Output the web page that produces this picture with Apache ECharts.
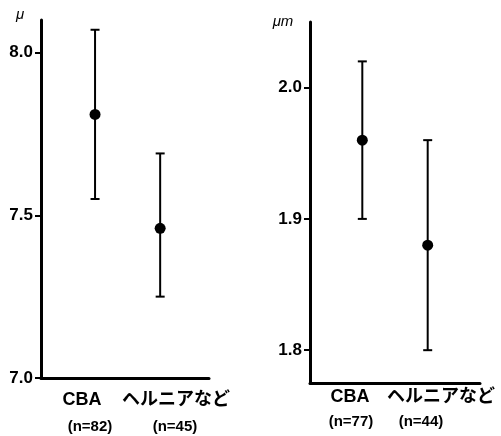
<!DOCTYPE html>
<html>
<head>
<meta charset="utf-8">
<script src="https://cdn.jsdelivr.net/npm/echarts@6/dist/echarts.min.js"></script>
<style>
html,body{margin:0;padding:0;background:#fff;}
#c{width:501px;height:436px;}
</style>
</head>
<body>
<div id="c"></div>
<script>
// Data
const categories = ['CBA', 'ヘルニアなど'];
const leftN = ['(n=82)', '(n=45)'];
const rightN = ['(n=77)', '(n=44)'];
const leftMean = [7.81, 7.46];
const leftUpper = [8.07, 7.69];
const leftLower = [7.55, 7.25];
const rightMean = [1.96, 1.88];
const rightUpper = [2.02, 1.96];
const rightLower = [1.90, 1.80];
const leftTicks = [7.0, 7.5, 8.0];
const rightTicks = [1.8, 1.9, 2.0];
const leftUnit = 'μ';
const rightUnit = 'μm';

const ink = '#000';
const chart = echarts.init(document.getElementById('c'), null, {renderer: 'canvas'});

function errData(upper, lower) {
  return upper.map((u, i) => [i + 1, lower[i], u]);
}
function meanData(mean) {
  return mean.map((m, i) => [i + 1, m]);
}
function renderErr(params, api) {
  const x = api.value(0);
  const lo = api.coord([x, api.value(1)]);
  const hi = api.coord([x, api.value(2)]);
  const hw = 4.5;
  const st = {stroke: ink, lineWidth: 2};
  return {
    type: 'group',
    children: [
      {type: 'line', shape: {x1: lo[0], y1: lo[1], x2: hi[0], y2: hi[1]}, style: st},
      {type: 'line', shape: {x1: hi[0] - hw, y1: hi[1], x2: hi[0] + hw, y2: hi[1]}, style: st},
      {type: 'line', shape: {x1: lo[0] - hw, y1: lo[1], x2: lo[0] + hw, y2: lo[1]}, style: st}
    ]
  };
}

const yAxisCommon = {
  type: 'value',
  splitLine: {show: false},
  axisLine: {show: true, lineStyle: {color: ink, width: 3}},
  axisTick: {show: true, length: 6, lineStyle: {color: ink, width: 2}},
  axisLabel: {color: ink, fontSize: 17, fontWeight: 'bold', margin: 8,
    fontFamily: 'Liberation Sans, Arial, sans-serif',
    formatter: v => v.toFixed(1)}
};
const xAxisCommon = {
  type: 'value',
  splitLine: {show: false},
  axisLine: {show: true, onZero: false, lineStyle: {color: ink, width: 3}},
  axisTick: {show: false},
  axisLabel: {show: false}
};

const catStyle = {fontSize: 18, fontWeight: 'bold', fill: ink,
  fontFamily: '"Liberation Sans", "Noto Sans CJK JP", sans-serif', align: 'center', verticalAlign: 'middle'};
const nStyle = {fontSize: 15, fontWeight: 'bold', fill: ink,
  fontFamily: '"Liberation Sans", Arial, sans-serif', align: 'center', verticalAlign: 'middle'};
const unitStyle = {fontSize: 15, fontStyle: 'italic', fill: ink,
  fontFamily: '"Liberation Sans", sans-serif', align: 'center', verticalAlign: 'middle'};

function txt(text, x, y, style) {
  return {type: 'text', x: x, y: y, style: Object.assign({text: text}, style)};
}

chart.setOption({
  animation: false,
  backgroundColor: '#fff',
  grid: [
    {left: 41, top: 20, right: 292, bottom: 58},
    {left: 310, top: 22, right: 21, bottom: 53}
  ],
  xAxis: [
    Object.assign({gridIndex: 0, min: 0.17, max: 2.75}, xAxisCommon),
    Object.assign({gridIndex: 1, min: 0.2, max: 2.8}, xAxisCommon)
  ],
  yAxis: [
    Object.assign({}, yAxisCommon, {gridIndex: 0, min: 7.0, max: 8.1,
      axisTick: Object.assign({}, yAxisCommon.axisTick, {customValues: leftTicks}),
      axisLabel: Object.assign({}, yAxisCommon.axisLabel, {customValues: leftTicks})}),
    Object.assign({}, yAxisCommon, {gridIndex: 1, min: 1.775, max: 2.05,
      axisTick: Object.assign({}, yAxisCommon.axisTick, {customValues: rightTicks}),
      axisLabel: Object.assign({}, yAxisCommon.axisLabel, {customValues: rightTicks})})
  ],
  series: [
    {type: 'custom', xAxisIndex: 0, yAxisIndex: 0, renderItem: renderErr,
      data: errData(leftUpper, leftLower), clip: false},
    {type: 'scatter', xAxisIndex: 0, yAxisIndex: 0, symbol: 'circle', symbolSize: 11,
      itemStyle: {color: ink, opacity: 1}, data: meanData(leftMean), clip: false},
    {type: 'custom', xAxisIndex: 1, yAxisIndex: 1, renderItem: renderErr,
      data: errData(rightUpper, rightLower), clip: false},
    {type: 'scatter', xAxisIndex: 1, yAxisIndex: 1, symbol: 'circle', symbolSize: 11,
      itemStyle: {color: ink, opacity: 1}, data: meanData(rightMean), clip: false}
  ],
  graphic: [
    txt(leftUnit, 20, 15, unitStyle),
    txt(rightUnit, 283, 22, unitStyle),
    txt(categories[0], 82, 400, catStyle),
    txt(categories[1], 176, 400, catStyle),
    txt(leftN[0], 90, 427, nStyle),
    txt(leftN[1], 175, 427, nStyle),
    txt(categories[0], 350, 397, catStyle),
    txt(categories[1], 441, 397, catStyle),
    txt(rightN[0], 351, 422, nStyle),
    txt(rightN[1], 421, 422, nStyle)
  ]
});
</script>
</body>
</html>
